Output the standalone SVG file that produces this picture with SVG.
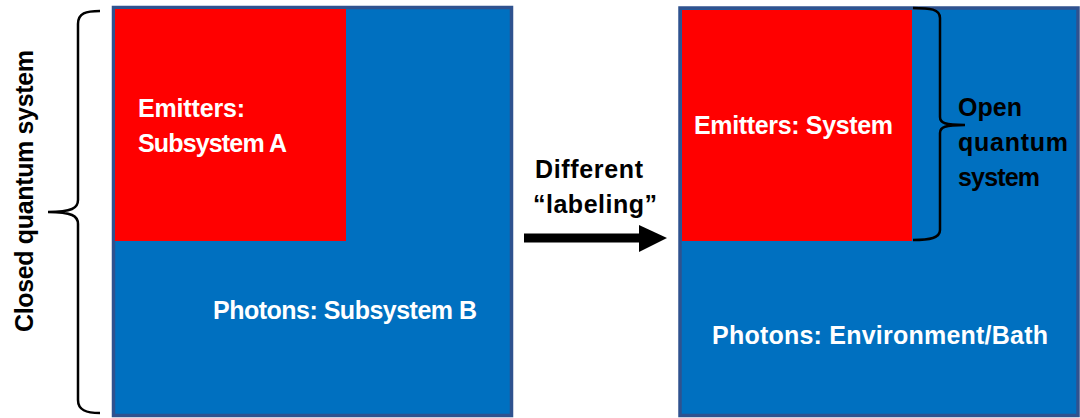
<svg xmlns="http://www.w3.org/2000/svg" width="1080" height="418" viewBox="0 0 1080 418">
<style>
.box{fill:#0070C0;stroke:#2F528F;stroke-width:3.5}
.red{fill:#FF0000}
.w{fill:#FFFFFF;font-family:"Liberation Sans",Arial,sans-serif;font-weight:bold;font-size:25px}
.k{fill:#000000;font-family:"Liberation Sans",Arial,sans-serif;font-weight:bold;font-size:25px}
.brace{fill:none;stroke:#000;stroke-width:2.5}
</style>
<rect width="1080" height="418" fill="#FFFFFF"/>
<g id="closed-system">
  <rect class="box" x="113.5" y="7.5" width="398" height="408"/>
  <rect class="red" x="115" y="9" width="231" height="232"/>
  <text class="w" x="138" y="117" textLength="107">Emitters:</text>
  <text class="w" x="138" y="152" textLength="149">Subsystem A</text>
  <text class="w" x="213" y="319" textLength="264">Photons: Subsystem B</text>
</g>
<g id="open-system">
  <rect class="box" x="680" y="8" width="398" height="407.5"/>
  <rect class="red" x="682" y="10" width="230" height="231"/>
  <text class="w" x="694" y="134" textLength="199">Emitters: System</text>
  <text class="w" x="712" y="344" textLength="336">Photons: Environment/Bath</text>
</g>
<g id="closed-label">
  <path class="brace" d="M100,11 C86,11 78,13 78,24 L78,200 C78,208 72,212 48,212 C72,212 78,216 78,224 L78,400 C78,410 86,413 100,413"/>
  <text class="k" transform="translate(33,191) rotate(-90)" text-anchor="middle" textLength="282">Closed quantum system</text>
</g>
<g id="open-label">
  <path class="brace" d="M913,8 C930,8 940,9 940,18 L940,117 C940,123 945,125 965,125 C945,125 940,127 940,133 L940,230 C940,238 930,240 913,240"/>
  <text class="k" x="958" y="116" textLength="64">Open</text>
  <text class="k" x="958" y="151" textLength="110">quantum</text>
  <text class="k" x="958" y="186" textLength="82">system</text>
</g>
<g id="connectors">
  <rect x="524" y="233.5" width="118" height="9" fill="#000"/>
  <polygon points="639,225 667,238 639,252" fill="#000"/>
  <text class="k" x="535" y="178" textLength="108">Different</text>
  <text class="k" x="533" y="213" textLength="124">“labeling”</text>
</g>
</svg>
